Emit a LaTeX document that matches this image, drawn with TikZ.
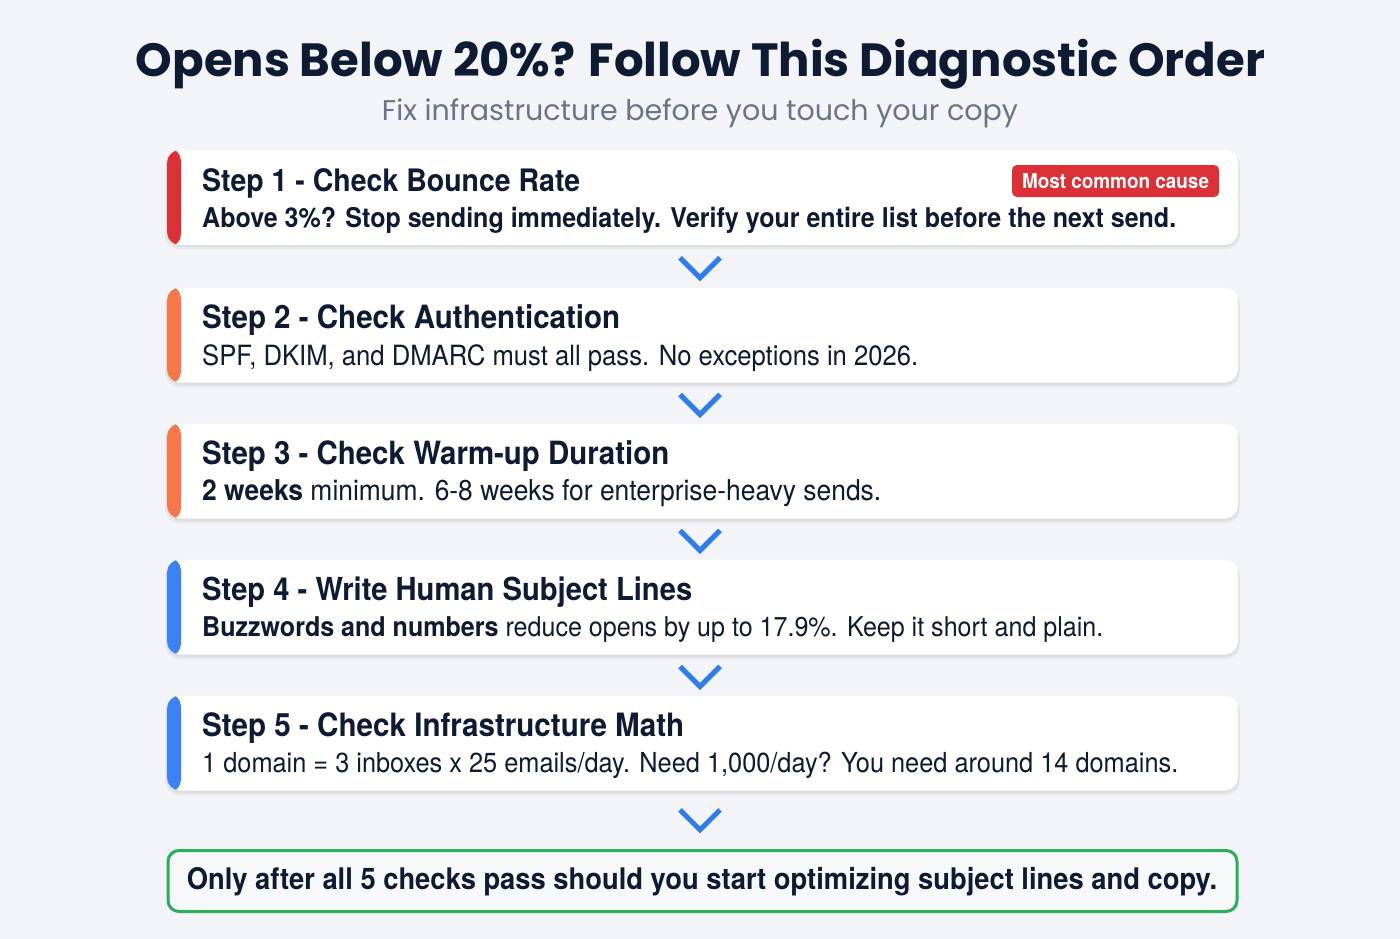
\documentclass[tikz,border=0pt]{standalone}
\usepackage{fontspec}
\setmainfont{TeX Gyre Heros}
\newfontfamily\pop{Poppins}
\usetikzlibrary{calc}
\definecolor{bg}{HTML}{F2F4F7}
\definecolor{ink}{HTML}{0F1A33}
\definecolor{subc}{HTML}{6B7385}
\definecolor{redc}{HTML}{DC2F36}
\definecolor{ornc}{HTML}{F7774A}
\definecolor{bluc}{HTML}{3B82F6}
\definecolor{chevc}{HTML}{2F7DEB}
\definecolor{grnc}{HTML}{2AAE5C}
\newcommand\fitw[2]{\resizebox{#1pt}{!}{#2}}
\newcommand\fitc[2]{\resizebox{#1pt}{!}{\scalebox{0.92}[1]{#2}}}
\tikzset{
  stepcard/.style={draw=none, fill=white, rounded corners=13pt, minimum width=1071pt,
    minimum height=95pt, inner sep=0pt,
    path picture={\fill[#1] ([xshift=-2pt,yshift=2pt]path picture bounding box.north west) rectangle
      ([xshift=14pt,yshift=-2pt]path picture bounding box.south west);}},
  cardshadow/.style={fill=black, opacity=0.045, rounded corners=14pt},
  txt/.style={anchor=base west, inner sep=0pt, text=ink},
  chevline/.style={draw=chevc, line width=5pt, line join=miter, line cap=butt},
  badge/.style={fill=redc, rounded corners=5pt, minimum width=207pt, minimum height=32pt,
    inner sep=0pt, text=white},
  finalbox/.style={draw=grnc, line width=3pt, fill=bg!60!white, rounded corners=11pt,
    minimum width=1069pt, minimum height=61pt, inner sep=0pt}
}
\begin{document}
\begin{tikzpicture}[x=1pt,y=-1pt]
\fill[bg] (0,0) rectangle (1400,939);
\useasboundingbox (0,0) rectangle (1400,939);
% title
\node[anchor=base, inner sep=0pt, text=ink] (title) at (700.5,77)
  {\fitw{1129}{\pop\bfseries Opens Below 20\%? Follow This Diagnostic Order}};
\node[anchor=base, inner sep=0pt, text=subc] (subtitle) at (700,121)
  {\fitw{636}{\pop Fix infrastructure before you touch your copy}};
% shadows
\foreach \t in {150,288,424,560,696}{
  \fill[cardshadow] (165,\t+1) rectangle (1240,\t+99);
  \fill[cardshadow] (166,\t+2) rectangle (1239,\t+97);
}
% cards
\node[stepcard=redc]  (c1) at (702.5,197.5) {};
\node[stepcard=ornc]  (c2) at (702.5,335) {};
\node[stepcard=ornc]  (c3) at (702.5,471) {};
\node[stepcard=bluc]  (c4) at (702.5,607) {};
\node[stepcard=bluc]  (c5) at (702.5,743) {};
% texts
\node[txt] (t1) at (202,191) {\fitc{378}{\bfseries Step 1 - Check Bounce Rate}};
\node[txt] (b1) at (202,227.5) {\fitc{974}{\bfseries Above 3\%? Stop sending immediately. Verify your entire list before the next send.}};
\node[badge] (bd) at (1115.5,181) {\fitc{187}{\bfseries Most common cause}};
\node[txt] (t2) at (202,328) {\fitc{418}{\bfseries Step 2 - Check Authentication}};
\node[txt] (b2) at (202,365) {\fitc{716}{SPF, DKIM, and DMARC must all pass. No exceptions in 2026.}};
\node[txt] (t3) at (202,464) {\fitc{467}{\bfseries Step 3 - Check Warm-up Duration}};
\node[txt] (b3) at (202,500.5) {\fitc{679}{\textbf{2 weeks} minimum. 6-8 weeks for enterprise-heavy sends.}};
\node[txt] (t4) at (202,600) {\fitc{490}{\bfseries Step 4 - Write Human Subject Lines}};
\node[txt] (b4) at (202,636.5) {\fitc{901}{\textbf{Buzzwords and numbers} reduce opens by up to 17.9\%. Keep it short and plain.}};
\node[txt] (t5) at (202,736) {\fitc{482}{\bfseries Step 5 - Check Infrastructure Math}};
\node[txt] (b5) at (202,772.5) {\fitc{976}{1 domain = 3 inboxes x 25 emails/day. Need 1,000/day? You need around 14 domains.}};
% final box
\node[finalbox] (fin) at (702.5,881) {};
\node[anchor=base, inner sep=0pt, text=ink] (fint) at (702,889)
  {\fitc{1030}{\bfseries Only after all 5 checks pass should you start optimizing subject lines and copy.}};
% chevrons
\coordinate (k1) at ($(c1.south)!0.5!(c2.north)+(-2.5,1.5)$);
\coordinate (k2) at ($(c2.south)!0.5!(c3.north)+(-2.5,1.5)$);
\coordinate (k3) at ($(c3.south)!0.5!(c4.north)+(-2.5,1.5)$);
\coordinate (k4) at ($(c4.south)!0.5!(c5.north)+(-2.5,1.5)$);
\coordinate (k5) at ($(c5.south)!0.5!(fin.north)+(-2.5,0)$);
\foreach \k in {k1,k2,k3,k4,k5}{
  \draw[chevline] ([shift={(-20,-10)}]\k) -- ([shift={(0,10)}]\k) -- ([shift={(20,-10)}]\k);
}
\end{tikzpicture}
\end{document}
